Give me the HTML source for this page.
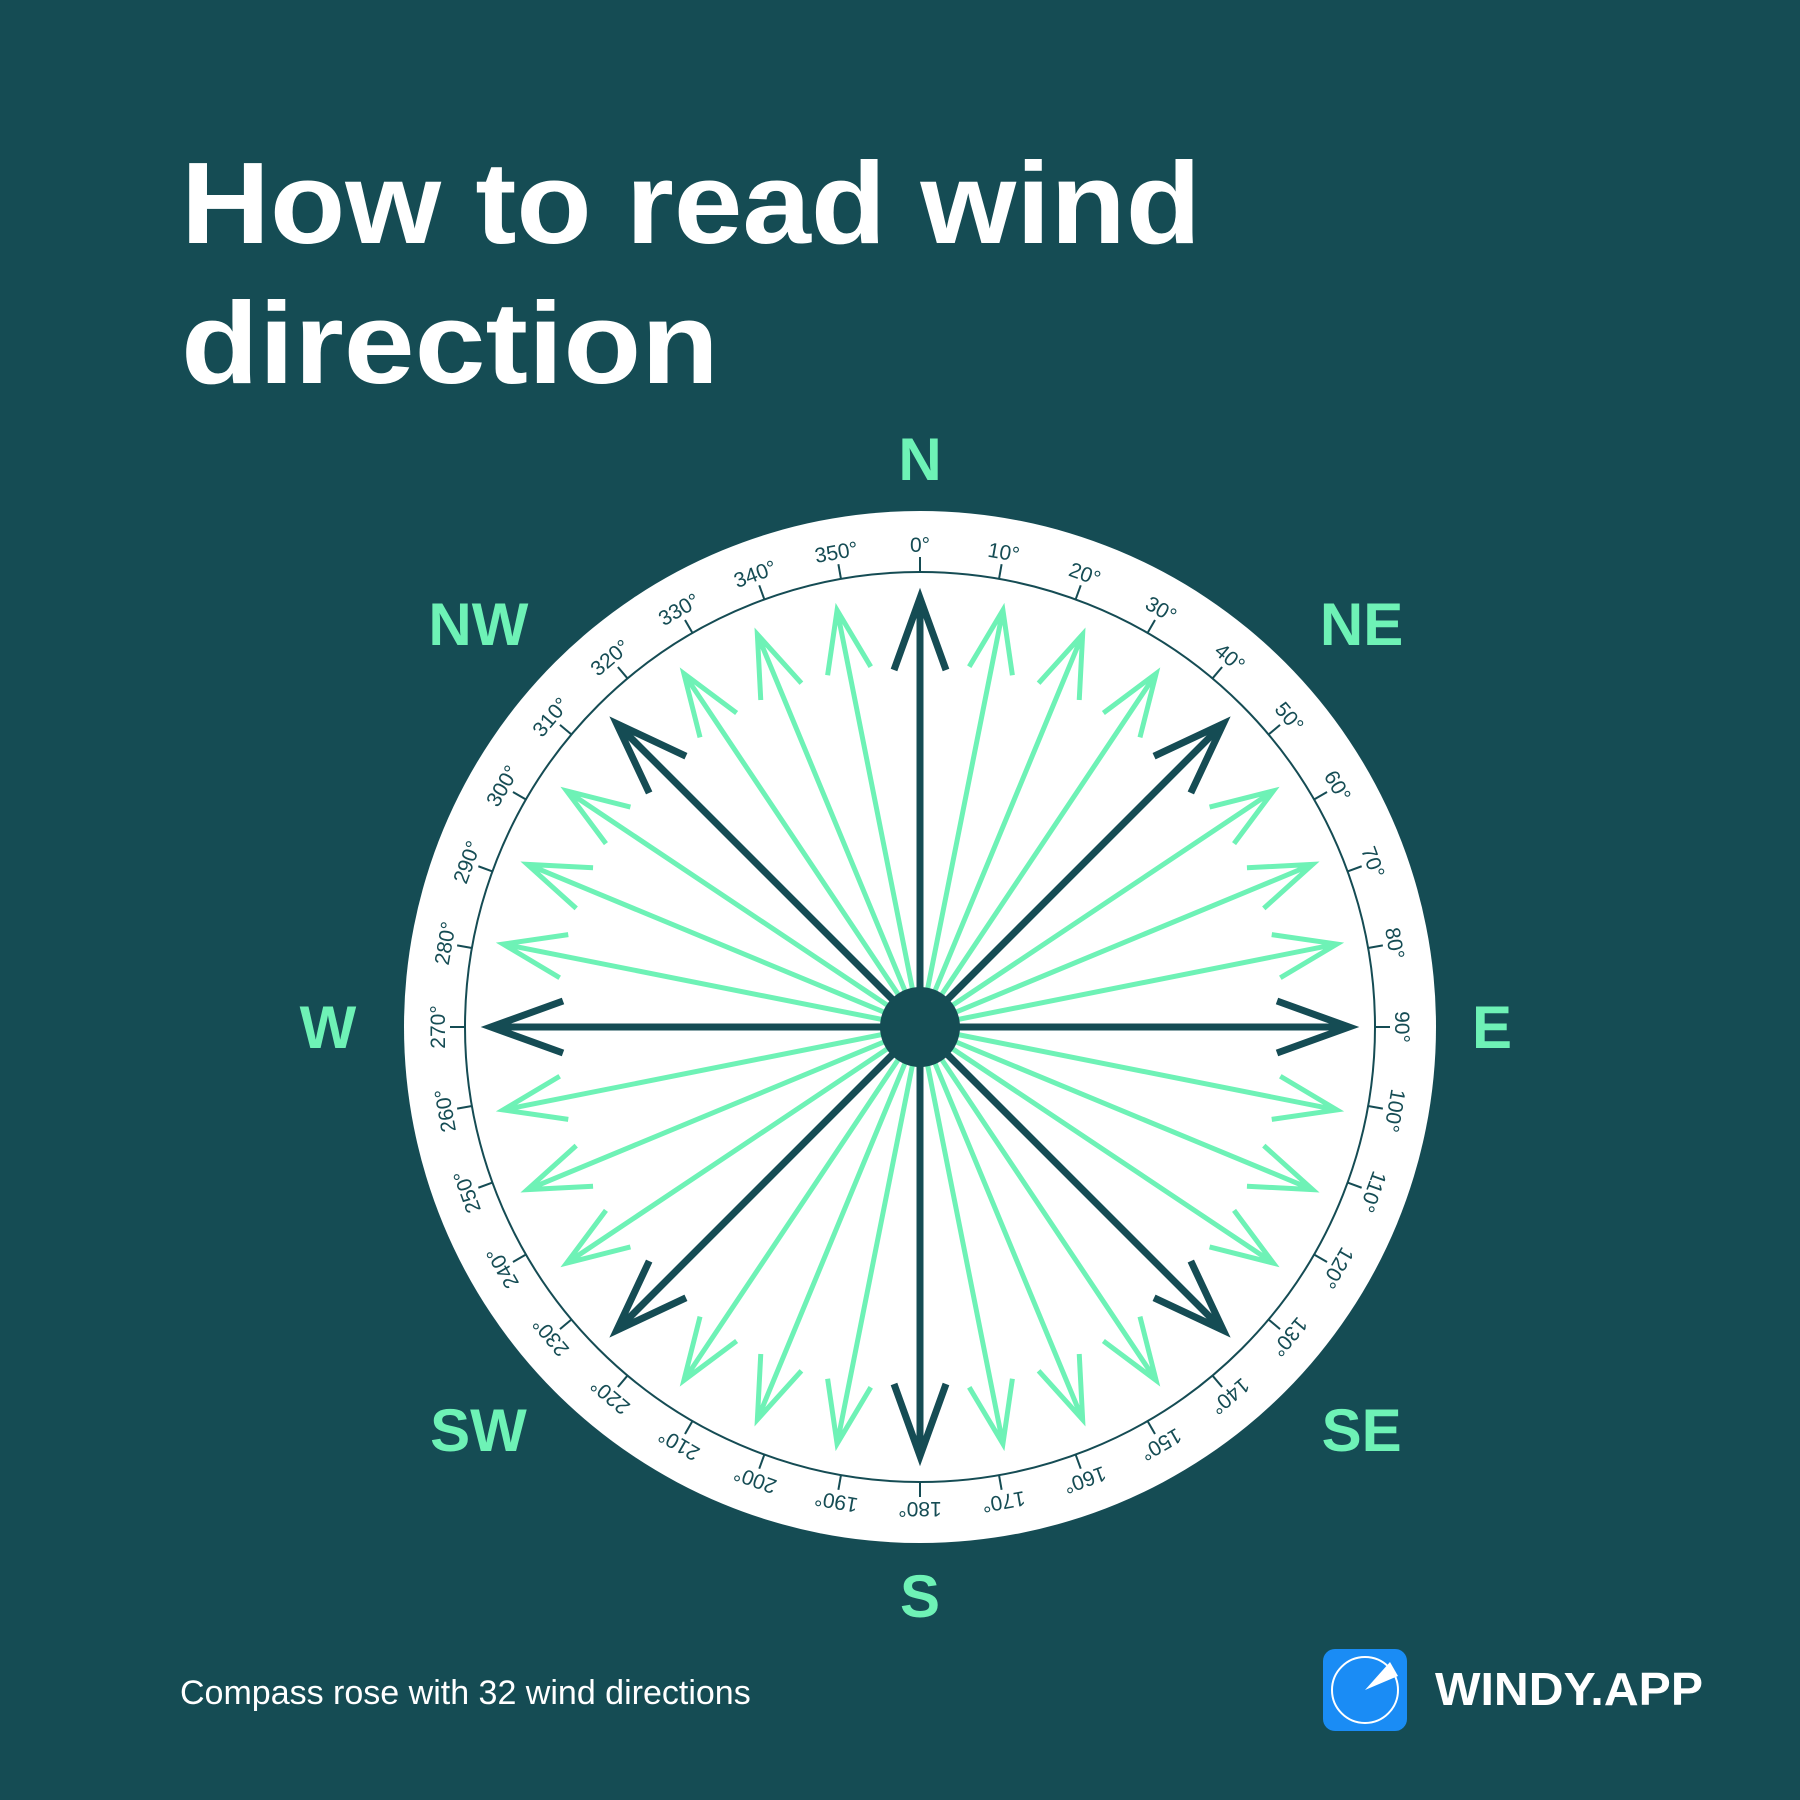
<!DOCTYPE html>
<html><head><meta charset="utf-8"><style>
html,body{margin:0;padding:0;background:#154c54;}
svg{display:block;}
</style></head><body>
<svg id="s" width="1800" height="1800" viewBox="0 0 1800 1800" xmlns="http://www.w3.org/2000/svg">
<rect width="1800" height="1800" fill="#154c54"/>
<text x="181" y="243" font-family="Liberation Sans, sans-serif" font-weight="bold" font-size="116" fill="#fff" textLength="1020" lengthAdjust="spacingAndGlyphs">How to read wind</text>
<text x="181" y="383" font-family="Liberation Sans, sans-serif" font-weight="bold" font-size="116" fill="#fff" textLength="538" lengthAdjust="spacingAndGlyphs">direction</text>
<circle cx="920" cy="1027" r="516" fill="#fff"/>
<circle cx="920" cy="1027" r="455" fill="none" stroke="#154c54" stroke-width="2"/>
<g id="ticks"></g>
<g id="arrows"></g>
<circle cx="920" cy="1027" r="40" fill="#154c54"/>
<g id="cardinals" font-family="Liberation Sans, sans-serif" font-weight="bold" font-size="60" fill="#6ef2b6" text-anchor="middle"></g>
<text x="180" y="1704" font-family="Liberation Sans, sans-serif" font-size="34" fill="#fff">Compass rose with 32 wind directions</text>
<g>
<rect x="1323" y="1649" width="84" height="82" rx="12" fill="#1a8cf5"/>
<circle cx="1365" cy="1690" r="33" fill="none" stroke="#fff" stroke-width="2"/>
<path d="M1365 1690 L1390 1662 L1398 1676 Z" fill="#fff"/>
<text x="1435" y="1705" font-family="Liberation Sans, sans-serif" font-weight="bold" font-size="46" fill="#fff" textLength="268" lengthAdjust="spacingAndGlyphs">WINDY.APP</text>
</g>
</svg>
<script>
const NS='http://www.w3.org/2000/svg';
const degreeLabels=[0,10,20,30,40,50,60,70,80,90,100,110,120,130,140,150,160,170,180,190,200,210,220,230,240,250,260,270,280,290,300,310,320,330,340,350];
const windDirections=[];for(let i=0;i<32;i++)windDirections.push(i*11.25);
const cardinalNames=['N','NE','E','SE','S','SW','W','NW'];
const cardinalAngles=[0,45,90,135,180,225,270,315];
const cx=920,cy=1027;
function pt(a,r){const t=a*Math.PI/180;return [cx+r*Math.sin(t),cy-r*Math.cos(t)];}
const tg=document.getElementById('ticks');
degreeLabels.forEach(d=>{
  const [x1,y1]=pt(d,455),[x2,y2]=pt(d,470);
  const l=document.createElementNS(NS,'line');
  l.setAttribute('x1',x1);l.setAttribute('y1',y1);l.setAttribute('x2',x2);l.setAttribute('y2',y2);
  l.setAttribute('stroke','#154c54');l.setAttribute('stroke-width','2');
  
  
  tg.appendChild(l);
  const t=document.createElementNS(NS,'text');
  t.setAttribute('x',cx);t.setAttribute('y',cy-475);
  t.setAttribute('text-anchor','middle');t.setAttribute('font-size','21');
  t.setAttribute('font-family','Liberation Sans, sans-serif');t.setAttribute('fill','#154c54');
  t.setAttribute('transform','rotate('+d+' '+cx+' '+cy+')');
  t.textContent=d+'°';
  
  
  tg.appendChild(t);
});
const ag=document.getElementById('arrows');
function arrow(a,main){
  const L=main?429:425,col=main?'#154c54':'#6ef2b6',w=main?7:5,hl=main?72:62,hw=main?26:22;
  const [tx,ty]=pt(a,L),[bx,by]=pt(a,L-hl);
  const t=a*Math.PI/180,px=Math.cos(t)*hw,py=Math.sin(t)*hw;
  const p=document.createElementNS(NS,'path');
  p.setAttribute('d','M'+cx+' '+cy+' L'+tx+' '+ty+' M'+(bx-px)+' '+(by-py)+' L'+tx+' '+ty+' L'+(bx+px)+' '+(by+py));
  p.setAttribute('stroke',col);p.setAttribute('stroke-width',w);p.setAttribute('fill','none');
  p.setAttribute('stroke-linejoin','miter');
  
  
  ag.appendChild(p);
}
windDirections.filter(a=>a%45!==0).forEach(a=>arrow(a,false));
windDirections.filter(a=>a%45===0).forEach(a=>arrow(a,true));
const cg=document.getElementById('cardinals');
const cardR=[568,598,572,598,569,598,592,598];
const cardAdj=[0,2.6,0,-2.6,0,2.6,0,-2.6];
cardinalNames.forEach((n,i)=>{
  const [x,y]=pt(cardinalAngles[i]+cardAdj[i],cardR[i]);
  const t=document.createElementNS(NS,'text');
  t.setAttribute('x',x);t.setAttribute('y',y+21);
  t.textContent=n;
  
  
  cg.appendChild(t);
});
</script>
</body></html>
